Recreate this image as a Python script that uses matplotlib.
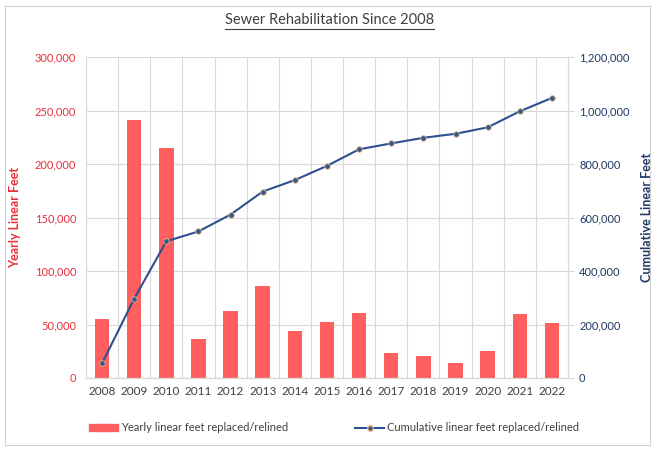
import numpy as np
import matplotlib.pyplot as plt
from matplotlib.patches import Rectangle
from matplotlib.lines import Line2D
from matplotlib.ticker import FuncFormatter

# ---------------------------
# DATA
# ---------------------------
years = ["2008", "2009", "2010", "2011", "2012", "2013", "2014", "2015",
         "2016", "2017", "2018", "2019", "2020", "2021", "2022"]
yearly_feet = [55000, 241500, 214700, 36000, 63000, 86000, 44000, 52700,
               61000, 23000, 20800, 14000, 25700, 59500, 51000]
cumulative_feet = [55000, 296500, 511000, 548000, 611000, 697000, 740000, 793000,
                   855000, 877000, 898000, 913000, 937000, 997000, 1047000]

RED = "#FF5F5F"
RED_TXT = "#E8303A"
NAVY = "#1F3864"
LINE = "#2F4F8F"
GRID = "#D9D9D9"
TXT = "#404040"

plt.rcParams['font.family'] = ['Lato', 'DejaVu Sans']

fig = plt.figure(figsize=(6.53, 4.5), dpi=100)
ax = fig.add_axes([0.1317, 0.16, 0.7381, 0.7133])
ax2 = ax.twinx()

x = np.arange(len(years))
ax.bar(x, yearly_feet, width=0.45, color=RED, zorder=2)
ax2.plot(x, cumulative_feet, color=LINE, lw=1.5, marker='o', ms=4,
         markerfacecolor="#2E5C8A", markeredgecolor="#F4B183", markeredgewidth=0.6)

ax.set_xlim(-0.5, len(years) - 0.5)
ax.set_ylim(0, 300000)
ax2.set_ylim(0, 1200000)
ax.set_yticks(np.arange(0, 300001, 50000))
ax2.set_yticks(np.arange(0, 1200001, 200000))
fmt = FuncFormatter(lambda v, p: f"{int(v):,}")
ax.yaxis.set_major_formatter(fmt)
ax2.yaxis.set_major_formatter(fmt)

ax.set_xticks(x)
ax.set_xticklabels(years)
ax.set_xticks(np.arange(0.5, len(years) - 1, 1), minor=True)
ax.grid(True, which='minor', axis='x', color=GRID, lw=0.8, zorder=0)
ax.grid(True, which='major', axis='y', color=GRID, lw=0.8, zorder=0)
ax.set_axisbelow(True)

ax.tick_params(axis='x', which='both', length=0, labelsize=8.5, labelcolor=TXT, pad=6)
ax.tick_params(axis='y', length=0, labelsize=8, labelcolor=RED_TXT, pad=7)
ax2.tick_params(axis='y', length=4, color=GRID, labelsize=8, labelcolor=NAVY, pad=4)

for a in (ax, ax2):
    a.spines["top"].set_visible(False)
    for s in ["left", "right", "bottom"]:
        a.spines[s].set_color(GRID)
        a.spines[s].set_linewidth(0.8)
ax.spines["bottom"].set_color("#BFBFBF")

ax.set_ylabel("Yearly Linear Feet", color=RED_TXT, fontsize=9, fontweight='bold')
ax2.set_ylabel("Cumulative Linear Feet", color=NAVY, fontsize=9, fontweight='bold')
ax.yaxis.set_label_coords(-0.135, 0.5)
ax2.yaxis.set_label_coords(1.152, 0.5)

# title with underline
title = fig.text(0.505, 0.955, "Sewer Rehabilitation Since 2008", ha='center', va='center',
                 fontsize=10.5, color=TXT)
fig.canvas.draw()
bb = title.get_window_extent().transformed(fig.transFigure.inverted())
fig.add_artist(Line2D([bb.x0, bb.x1], [bb.y0 - 0.004, bb.y0 - 0.004],
                      transform=fig.transFigure, color=TXT, lw=0.8))

# legend
handles = [Rectangle((0, 0), 1, 1, color=RED),
           Line2D([0], [0], color=LINE, lw=1.5, marker='o', ms=4,
                  markerfacecolor="#2E5C8A", markeredgecolor="#F4B183")]
fig.legend(handles, ["Yearly linear feet replaced/relined",
                     "Cumulative linear feet replaced/relined"],
           loc='center', bbox_to_anchor=(0.512, 0.049), ncol=2, frameon=False,
           fontsize=8, labelcolor=TXT, handlelength=2.6, columnspacing=6,
           handletextpad=0.3)

# outer frame
fig.add_artist(Rectangle((0.008, 0.012), 0.987, 0.975, transform=fig.transFigure,
                         fill=False, edgecolor="#D0D0D0", lw=0.8))

fig.savefig("out.png", dpi=100)
